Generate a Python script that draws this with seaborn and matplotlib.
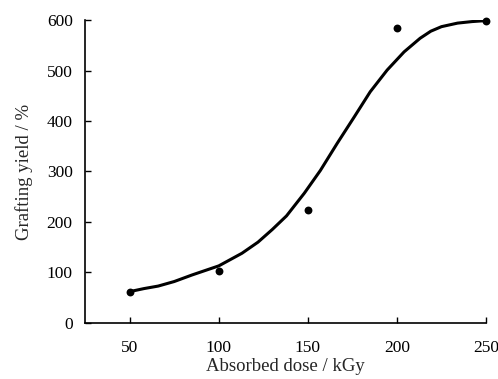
import numpy as np
import pandas as pd
import matplotlib
matplotlib.use("Agg")
import matplotlib.pyplot as plt
import seaborn as sns

# measured points
dose = [50, 100, 150, 200, 250]
yield_pct = [62, 102, 224, 584, 599]

# fitted curve
curve_dose = [50, 58, 66, 75, 85, 100, 113, 122, 130, 138, 148, 157, 166.5, 176,
              185, 194.5, 204, 213, 219, 225, 234, 242, 250]
curve_yield = [62, 68, 73, 82, 95, 113, 138, 160, 185, 212, 257, 302, 356, 408,
               458, 501, 537, 564, 578, 587, 594, 597, 599]

pts = pd.DataFrame({"dose": dose, "yield": yield_pct})
fit = pd.DataFrame({"dose": curve_dose, "yield": curve_yield})

sns.set_style("ticks")
plt.rcParams["font.family"] = ["Liberation Serif", "DejaVu Serif"]

fig = plt.figure(figsize=(4.98, 3.79), dpi=100)
ax = fig.add_axes([0.171, 0.148, 0.805, 0.799])

sns.lineplot(data=fit, x="dose", y="yield", color="black", linewidth=2.2, ax=ax)
sns.scatterplot(data=pts, x="dose", y="yield", color="black", s=32, edgecolor="black",
                linewidth=0, ax=ax, clip_on=False, zorder=5)

ax.set_xlim(25, 250)
ax.set_ylim(0, 600)
ax.set_xticks([50, 100, 150, 200, 250])
ax.set_yticks([0, 100, 200, 300, 400, 500, 600])
ax.tick_params(direction="in", length=4, width=1, labelsize=12.5, colors="black")
ax.tick_params(axis="y", pad=9)
ax.tick_params(axis="x", pad=12)
for s in ["top", "right"]:
    ax.spines[s].set_visible(False)
for s in ["left", "bottom"]:
    ax.spines[s].set_linewidth(1.2)
    ax.spines[s].set_color("black")

ax.set_xlabel("Absorbed dose / kGy", fontsize=13.5, labelpad=2)
ax.set_ylabel("Grafting yield / %", fontsize=13.5, labelpad=10)

fig.savefig("out.png", dpi=100)
